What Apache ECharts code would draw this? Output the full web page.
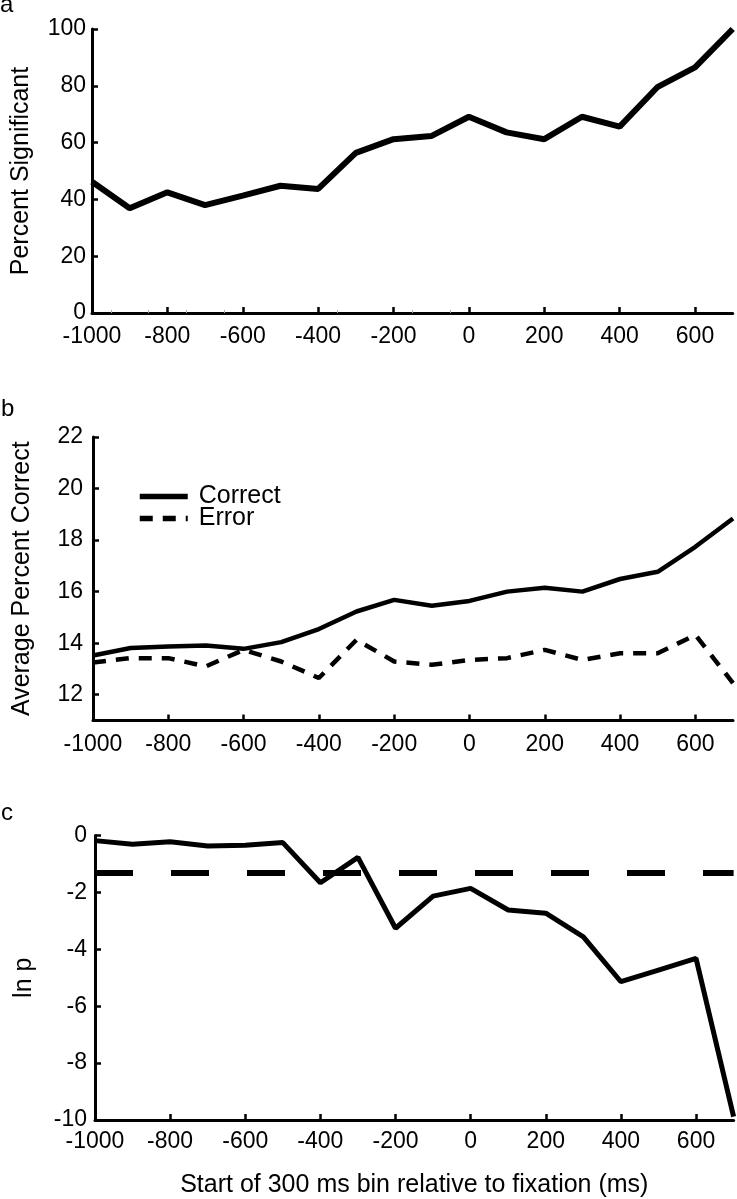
<!DOCTYPE html>
<html>
<head>
<meta charset="utf-8">
<script src="https://cdn.jsdelivr.net/npm/echarts@6/dist/echarts.min.js"></script>
<style>
html,body{margin:0;padding:0;background:#fff;}
#chart{width:737px;height:1199px;}
</style>
</head>
<body>
<div id="chart"></div>
<script>
// ---- Data ----
const xBins = [-1000,-900,-800,-700,-600,-500,-400,-300,-200,-100,0,100,200,300,400,500,600,700];
const percentSignificant = [46.2,36.9,42.5,38.0,41.3,44.8,43.7,56.4,61.2,62.3,69.1,63.6,61.2,69.1,65.6,79.5,86.5,100];
const correctValues = [13.52,13.81,13.87,13.91,13.78,14.04,14.55,15.23,15.68,15.45,15.64,16.0,16.15,16.0,16.49,16.77,17.74,18.84];
const errorValues = [13.25,13.42,13.42,13.1,13.74,13.29,12.65,14.13,13.29,13.16,13.35,13.42,13.74,13.35,13.61,13.61,14.32,12.45];
const lnPValues = [-0.18,-0.31,-0.22,-0.37,-0.34,-0.25,-1.66,-0.77,-3.26,-2.13,-1.86,-2.62,-2.73,-3.56,-5.14,-4.73,-4.32,-9.88];
const lnPThreshold = -1.3;

const xTickValues = [-1000,-800,-600,-400,-200,0,200,400,600];
const minorTicksA = [-950,-850,-750,-650,-350,-150,-50];
const yTicksA = [0,20,40,60,80,100];
const yTicksB = [12,14,16,18,20,22];
const yTicksC = [-10,-8,-6,-4,-2,0];

const seriesNames = ['Correct','Error'];
const panelLabels = ['a','b','c'];
const yNames = ['Percent Significant','Average Percent Correct','ln p'];
const xName = 'Start of 300 ms bin relative to fixation (ms)';

// ---- Chart ----
const FONT = '"Liberation Sans", Arial, Helvetica, sans-serif';
const pair = (vals) => xBins.map((x, i) => [x, vals[i]]);
const plain = (v) => String(v);

function makeX(gridIndex, labelMargin, extra) {
  return Object.assign({
    type: 'value', gridIndex: gridIndex, min: -1000, max: 700, position: 'bottom',
    axisLine: {show: true, onZero: false, lineStyle: {color: '#000', width: 3}},
    axisTick: {show: true, inside: true, length: 6, customValues: xTickValues,
               lineStyle: {color: '#000', width: 2.5}},
    axisLabel: {show: true, color: '#000', fontSize: 23, fontFamily: FONT,
                margin: labelMargin, customValues: xTickValues, formatter: plain},
    splitLine: {show: false}
  }, extra || {});
}
function makeY(gridIndex, min, max, ticks, name, labelMargin) {
  return {
    type: 'value', gridIndex: gridIndex, min: min, max: max,
    name: name, nameLocation: 'middle', nameGap: 58,
    nameTextStyle: {color: '#000', fontSize: 25, fontFamily: FONT},
    axisLine: {show: true, onZero: false, lineStyle: {color: '#000', width: 3}},
    axisTick: {show: true, inside: true, length: 6, customValues: ticks,
               lineStyle: {color: '#000', width: 2.5}},
    axisLabel: {show: true, color: '#000', fontSize: 23, fontFamily: FONT,
                margin: labelMargin, customValues: ticks, formatter: plain},
    splitLine: {show: false}
  };
}

const chart = echarts.init(document.getElementById('chart'), null, {renderer: 'canvas'});
const option = {
  animation: false,
  backgroundColor: '#fff',
  textStyle: {fontFamily: FONT},
  title: [
    {text: panelLabels[0], left: 0, top: -7, padding: 0, textStyle: {fontSize: 24, fontWeight: 'normal', color: '#000', fontFamily: FONT}},
    {text: panelLabels[1], left: 1, top: 397, padding: 0, textStyle: {fontSize: 24, fontWeight: 'normal', color: '#000', fontFamily: FONT}},
    {text: panelLabels[2], left: 1, top: 801, padding: 0, textStyle: {fontSize: 24, fontWeight: 'normal', color: '#000', fontFamily: FONT}}
  ],
  grid: [
    {left: 92, top: 29, width: 640.7, height: 284, containLabel: false, outerBoundsMode: 'none'},
    {left: 93, top: 437, width: 640, height: 283.5, containLabel: false, outerBoundsMode: 'none'},
    {left: 95, top: 835.5, width: 638.6, height: 284.5, containLabel: false, outerBoundsMode: 'none'}
  ],
  legend: {
    data: seriesNames, orient: 'vertical', left: 137, top: 484,
    itemWidth: 48, itemHeight: 14, itemGap: -3, padding: 0,
    selectedMode: false,
    itemStyle: {color: 'rgba(0,0,0,0)', borderColor: 'rgba(0,0,0,0)', borderWidth: 0, opacity: 0},
    lineStyle: {width: 5.5, color: '#000'},
    textStyle: {fontSize: 25, color: '#000', fontFamily: FONT, lineHeight: 22, padding: [0, 0, 0, 6]}
  },
  xAxis: [
    makeX(0, 12),
    makeX(1, 13),
    makeX(2, 10, {name: xName, nameLocation: 'middle', nameGap: 53,
                  nameTextStyle: {color: '#000', fontSize: 25, fontFamily: FONT}}),
    makeX(0, 12, {axisLine: {show: false}, axisLabel: {show: false},
                  axisTick: {show: true, inside: true, length: 3, customValues: minorTicksA,
                             lineStyle: {color: '#aaa', width: 1}}})
  ],
  yAxis: [
    makeY(0, 0, 100, yTicksA, yNames[0], 6),
    makeY(1, 11, 22, yTicksB, yNames[1], 10),
    makeY(2, -10, 0, yTicksC, yNames[2], 8)
  ],
  series: [
    {type: 'line', name: 'pct', xAxisIndex: 0, yAxisIndex: 0, data: pair(percentSignificant),
     symbol: 'none', showSymbol: false, clip: false, silent: true,
     lineStyle: {color: '#000', width: 6}},
    {type: 'line', name: seriesNames[0], xAxisIndex: 1, yAxisIndex: 1, data: pair(correctValues),
     symbol: 'none', showSymbol: false, clip: false, silent: true, color: '#000',
     lineStyle: {color: '#000', width: 4.5, type: 'solid'}},
    {type: 'line', name: seriesNames[1], xAxisIndex: 1, yAxisIndex: 1, data: pair(errorValues),
     symbol: 'none', showSymbol: false, clip: false, silent: true, color: '#000',
     lineStyle: {color: '#000', width: 4.5, type: [13, 10]}},
    {type: 'line', name: 'lnp', xAxisIndex: 2, yAxisIndex: 2, data: pair(lnPValues),
     symbol: 'none', showSymbol: false, clip: false, silent: true,
     lineStyle: {color: '#000', width: 5},
     markLine: {silent: true, symbol: ['none', 'none'], animation: false,
                label: {show: false},
                lineStyle: {color: '#000', width: 6, type: [38, 38]},
                emphasis: {disabled: true},
                data: [{yAxis: lnPThreshold}]}}
  ]
};
chart.setOption(option);
</script>
</body>
</html>
